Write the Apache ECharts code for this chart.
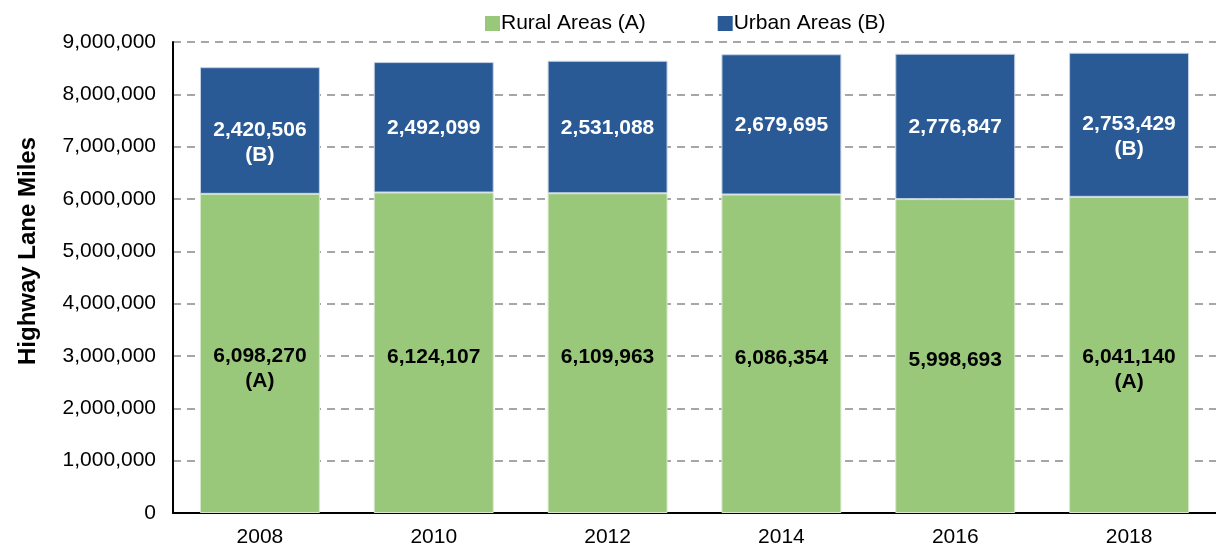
<!DOCTYPE html>
<html>
<head>
<meta charset="utf-8">
<script src="https://cdn.jsdelivr.net/npm/echarts@6/dist/echarts.min.js"></script>
<style>
  html, body { margin: 0; padding: 0; background: #fff; }
  #chart { width: 1216px; height: 550px; }
</style>
</head>
<body>
<div id="chart"></div>
<script>
// Highway lane miles by year, split into rural and urban areas
const years = ['2008', '2010', '2012', '2014', '2016', '2018'];
const ruralMiles = [6098270, 6124107, 6109963, 6086354, 5998693, 6041140];
const urbanMiles = [2420506, 2492099, 2531088, 2679695, 2776847, 2753429];
// Years whose labels carry the series letter
const taggedYears = ['2008', '2018'];

const fmt = v => v.toLocaleString('en-US');
const FONT = 'Liberation Sans, Arial, sans-serif';

function labelled(values, tag, shift) {
  return values.map((v, i) => {
    const tagged = taggedYears.includes(years[i]);
    return {
      value: v,
      label: {
        formatter: tagged ? fmt(v) + '\n' + tag : fmt(v),
        offset: tagged ? [0, 12 + shift] : [0, 1 + shift]
      }
    };
  });
}

const chart = echarts.init(document.getElementById('chart'), null, { renderer: 'canvas' });
chart.setOption({
  animation: false,
  textStyle: { fontFamily: FONT },
  legend: {
    top: 8,
    left: 480,
    itemWidth: 15,
    itemHeight: 15,
    itemGap: 72,
    icon: 'rect',
    itemStyle: { borderWidth: 0 },
    textStyle: { fontSize: 21, color: '#000', fontFamily: FONT, padding: [0, 0, 0, -4] },
    data: ['Rural Areas (A)', 'Urban Areas (B)']
  },
  grid: { left: 173, top: 42, width: 1050, bottom: 37, containLabel: false },
  xAxis: {
    type: 'category',
    data: years,
    axisLine: { lineStyle: { color: '#000', width: 2 } },
    axisTick: { show: false },
    axisLabel: { fontSize: 21, color: '#000', margin: 14, fontFamily: FONT }
  },
  yAxis: {
    type: 'value',
    min: 0,
    max: 9000000,
    interval: 1000000,
    axisLine: { show: true, lineStyle: { color: '#000', width: 2 } },
    axisTick: { show: false },
    axisLabel: { fontSize: 21, color: '#000', margin: 17, formatter: v => fmt(v), fontFamily: FONT },
    splitLine: { lineStyle: { color: '#a6a6a6', width: 2, type: [8, 6] } }
  },
  graphic: [{
    type: 'text',
    x: 28,
    y: 251,
    rotation: Math.PI / 2,
    style: {
      text: 'Highway Lane Miles',
      font: 'bold 24px ' + FONT,
      fill: '#000',
      align: 'center',
      verticalAlign: 'middle'
    }
  }],
  series: [
    {
      name: 'Rural Areas (A)',
      type: 'bar',
      stack: 'total',
      barCategoryGap: '31%',
      itemStyle: { color: '#9ac87b', borderColor: '#d6e8c8', borderWidth: 1 },
      label: {
        show: true,
        position: 'inside',
        color: '#000',
        fontWeight: 'bold',
        fontSize: 21,
        lineHeight: 25,
        fontFamily: FONT
      },
      data: labelled(ruralMiles, '(A)', 3)
    },
    {
      name: 'Urban Areas (B)',
      type: 'bar',
      stack: 'total',
      barCategoryGap: '31%',
      itemStyle: { color: '#2a5a95', borderColor: '#c4d2e4', borderWidth: 1 },
      label: {
        show: true,
        position: 'inside',
        color: '#fff',
        fontWeight: 'bold',
        fontSize: 21,
        lineHeight: 25,
        fontFamily: FONT
      },
      data: labelled(urbanMiles, '(B)', 0)
    }
  ]
});
</script>
</body>
</html>
